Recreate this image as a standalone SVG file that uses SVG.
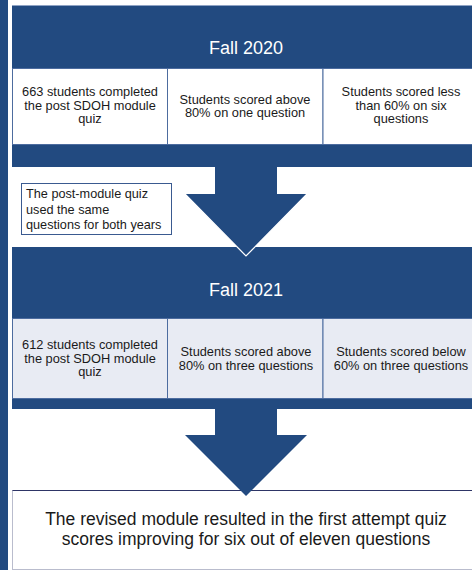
<svg xmlns="http://www.w3.org/2000/svg" width="472" height="570" viewBox="0 0 472 570">
  <style>
    .band { fill: #224a80; }
    .hdr { font-family: "Liberation Sans", Arial, sans-serif; font-size: 18px; fill: #ffffff; text-anchor: middle; }
    .cell { stroke: #4d6c9f; stroke-width: 1; }
    .c1 { fill: #ffffff; }
    .c2 { fill: #e8ebf3; }
    .ct { font-family: "Liberation Sans", Arial, sans-serif; font-size: 12.8px; fill: #1a1a1a; text-anchor: middle; }
    .note { font-family: "Liberation Sans", Arial, sans-serif; font-size: 12.7px; fill: #1a1a1a; }
    .big { font-family: "Liberation Sans", Arial, sans-serif; font-size: 17.5px; fill: #1a1a1a; text-anchor: middle; }
    .arrow { fill: #224a80; }
    .edge { fill: none; stroke: #ffffff; stroke-width: 1.2; }
  </style>

  <!-- left side bar -->
  <rect class="band" x="0" y="0" width="8" height="570"/>

  <!-- Fall 2020 block -->
  <g id="fall2020">
    <rect class="band" x="12" y="5" width="468" height="162"/>
    <line x1="12" y1="5.5" x2="472" y2="5.5" stroke="#8fa3c4" stroke-width="1"/>
    <text class="hdr" x="246" y="54">Fall 2020</text>
    <rect class="cell c1" x="12.5" y="68.5" width="155" height="76"/>
    <rect class="cell c1" x="167.5" y="68.5" width="155.5" height="76"/>
    <rect class="cell c1" x="323" y="68.5" width="156" height="76"/>
    <text class="ct" x="90" y="96">663 students completed</text>
    <text class="ct" x="90" y="109.5">the post SDOH module</text>
    <text class="ct" x="90" y="123">quiz</text>
    <text class="ct" x="245" y="103.5">Students scored above</text>
    <text class="ct" x="245" y="117">80% on one question</text>
    <text class="ct" x="401" y="96">Students scored less</text>
    <text class="ct" x="401" y="109.5">than 60% on six</text>
    <text class="ct" x="401" y="123">questions</text>
  </g>

  <!-- side note -->
  <g id="note">
    <rect x="21.5" y="183.5" width="150" height="51" fill="#ffffff" stroke="#3a5a90" stroke-width="1"/>
    <text class="note" x="26" y="198">The post-module quiz</text>
    <text class="note" x="26" y="213.5">used the same</text>
    <text class="note" x="26" y="229">questions for both years</text>
  </g>

  <!-- Fall 2021 block -->
  <g id="fall2021">
    <rect class="band" x="12" y="247" width="468" height="162"/>
    <text class="hdr" x="246" y="296">Fall 2021</text>
    <rect class="cell c2" x="12.5" y="318.5" width="155" height="80"/>
    <rect class="cell c2" x="167.5" y="318.5" width="155.5" height="80"/>
    <rect class="cell c2" x="323" y="318.5" width="156" height="80"/>
    <text class="ct" x="90" y="349">612 students completed</text>
    <text class="ct" x="90" y="362.5">the post SDOH module</text>
    <text class="ct" x="90" y="376">quiz</text>
    <text class="ct" x="246" y="356">Students scored above</text>
    <text class="ct" x="246" y="369.5">80% on three questions</text>
    <text class="ct" x="401" y="356">Students scored below</text>
    <text class="ct" x="401" y="369.5">60% on three questions</text>
  </g>

  <!-- conclusion -->
  <g id="result">
    <rect x="12.5" y="490.5" width="468" height="79" fill="#ffffff" stroke="#b9bccd" stroke-width="1"/>
    <line x1="12.5" y1="490.5" x2="472" y2="490.5" stroke="#2e3566" stroke-width="1"/>
    <text class="big" x="246" y="525">The revised module resulted in the first attempt quiz</text>
    <text class="big" x="246" y="544.5">scores improving for six out of eleven questions</text>
  </g>

  <!-- connectors -->
  <g id="connectors">
    <polygon class="arrow" points="215,160 277,160 277,194 307,194 246,256 185,194 215,194"/>
    <polyline class="edge" points="185,194 246,256 307,194"/>
    <polygon class="arrow" points="215,405 277,405 277,435 307,435 246,496 185,435 215,435"/>
  </g>
</svg>
